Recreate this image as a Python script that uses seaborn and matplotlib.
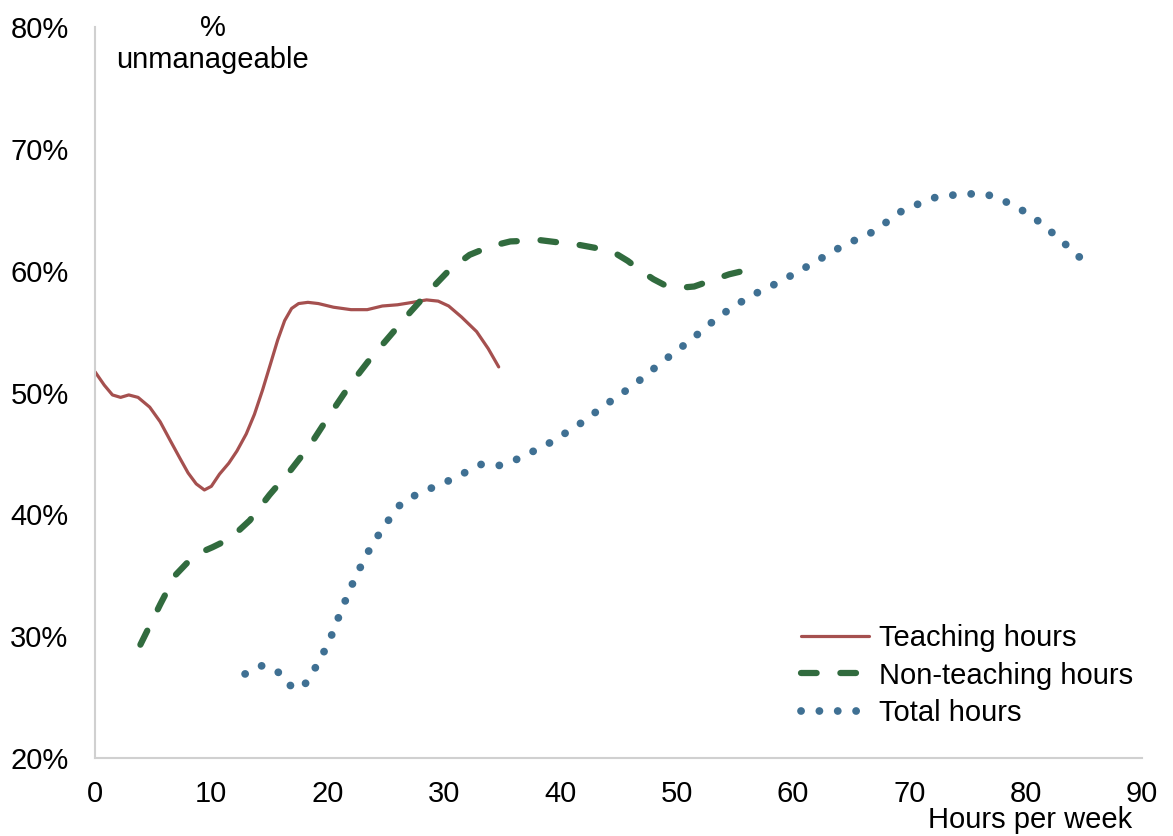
import pandas as pd
import seaborn as sns
import matplotlib.pyplot as plt

# Teaching hours (solid red)
teach_hours = [0, 0.8, 1.5, 2.2, 2.9, 3.7, 4.7, 5.6, 6.5, 7.3, 8.0, 8.7, 9.4, 10.0, 10.7, 11.5,
               12.2, 13.0, 13.7, 14.4, 15.1, 15.7, 16.3, 16.9, 17.5, 18.3, 19.2, 20.5, 22.0,
               23.4, 24.7, 26.0, 27.3, 28.5, 29.5, 30.4, 31.5, 32.8, 33.8, 34.7]
teach_pct = [51.7, 50.6, 49.8, 49.6, 49.8, 49.6, 48.8, 47.6, 46.0, 44.6, 43.4, 42.5, 42.0, 42.3,
             43.3, 44.2, 45.2, 46.6, 48.2, 50.2, 52.4, 54.3, 55.9, 56.9, 57.3, 57.4, 57.3, 57.0,
             56.8, 56.8, 57.1, 57.2, 57.4, 57.6, 57.5, 57.1, 56.2, 55.0, 53.6, 52.1]

# Non-teaching hours (dashed green)
nonteach_hours = [3.9, 5.6, 6.9, 8.0, 8.9, 10.1, 11.6, 13.3, 15.0, 16.8, 18.5, 20.2, 21.9, 23.6,
                  25.4, 27.1, 28.8, 30.5, 32.2, 34.0, 35.7, 38.3, 40.0, 41.7, 43.4, 44.6, 45.8,
                  46.9, 48.0, 49.0, 50.3, 51.5, 53.0, 54.5, 56.7]
nonteach_pct = [29.3, 32.6, 35.0, 36.1, 36.8, 37.3, 38.0, 39.5, 41.6, 43.6, 45.7, 48.2, 50.6, 52.7,
                54.7, 56.6, 58.4, 60.1, 61.3, 62.0, 62.4, 62.5, 62.3, 62.1, 61.8, 61.5, 60.8,
                60.0, 59.3, 58.8, 58.6, 58.7, 59.2, 59.7, 60.2]

# Total hours (dotted blue)
total_hours = [12.9, 14.4, 15.7, 16.6, 17.8, 18.7, 19.4, 20.1, 21.2, 22.4, 23.8, 25.5, 26.4, 27.8,
               30.5, 33.2, 34.7, 36.0, 38.8, 41.5, 43.9, 46.3, 48.6, 51.2, 53.7, 56.3, 58.9,
               61.5, 64.2, 66.9, 69.5, 72.2, 74.5, 76.5, 77.8, 80.4, 82.8, 85.1]
total_pct = [26.9, 27.6, 27.1, 26.0, 25.7, 27.0, 28.2, 29.5, 32.2, 34.9, 37.5, 39.9, 41.0, 41.7,
             42.8, 44.1, 44.0, 44.4, 45.7, 47.3, 49.0, 50.6, 52.4, 54.3, 56.3, 57.9, 59.1,
             60.5, 62.0, 63.2, 65.0, 66.0, 66.3, 66.3, 65.9, 64.6, 62.7, 60.7]

y_ticks = [20, 30, 40, 50, 60, 70, 80]
x_ticks = [0, 10, 20, 30, 40, 50, 60, 70, 80, 90]

sns.set_style("white")
plt.rcParams['font.family'] = ['Liberation Sans', 'DejaVu Sans']
plt.rcParams['text.color'] = 'black'
plt.rcParams['xtick.color'] = 'black'
plt.rcParams['ytick.color'] = 'black'

fig = plt.figure(figsize=(11.73, 8.36), dpi=100)
ax = fig.add_axes([0.081, 0.0933, 0.8926, 0.8744])

sns.lineplot(x=teach_hours, y=teach_pct, ax=ax, color="#A5504F", linewidth=2.3,
             label="Teaching hours")
sns.lineplot(x=nonteach_hours, y=nonteach_pct, ax=ax, color="#316B3E", linewidth=4.5,
             linestyle=(0, (2.5, 3.8)), dash_capstyle="round", label="Non-teaching hours")
sns.lineplot(x=total_hours, y=total_pct, ax=ax, color="#3F7093", linewidth=5.6,
             linestyle=(0, (0.01, 2.35)), dash_capstyle="round", label="Total hours")

ax.set_xlim(0, 90)
ax.set_ylim(20, 80)
ax.set_xticks(x_ticks)
ax.set_yticks(y_ticks)
ax.set_yticklabels([f"{v}%" for v in y_ticks])
ax.tick_params(axis="both", labelsize=21, length=0)
ax.tick_params(axis="y", pad=19)
ax.tick_params(axis="x", pad=16)
ax.set_xlabel("")
ax.set_ylabel("")

for side in ["top", "right"]:
    ax.spines[side].set_visible(False)
for side in ["left", "bottom"]:
    ax.spines[side].set_color("#d0d0d0")
    ax.spines[side].set_linewidth(1.5)

fig.text(213 / 1173, 1 - 44 / 836, "%\nunmanageable", ha="center", va="center",
         fontsize=21, linespacing=1.15)
fig.text(1030 / 1173, 1 - 820 / 836, "Hours per week", ha="center", va="center", fontsize=21)

ax.legend(loc="lower right", bbox_to_anchor=(1.0, 0.03), frameon=False, fontsize=21,
          handlelength=2.33, handletextpad=0.34, labelspacing=0.33, borderaxespad=0,
          borderpad=0.3)

fig.savefig("out.png", dpi=100)
